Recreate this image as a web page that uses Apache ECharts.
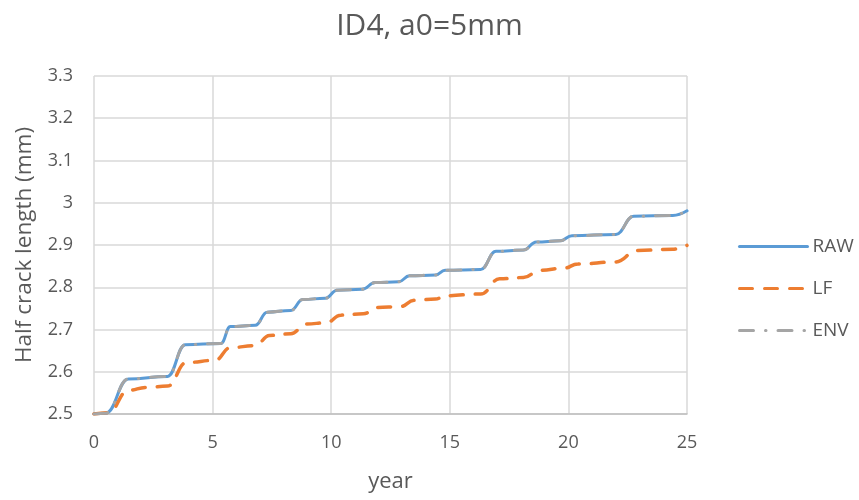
<!DOCTYPE html>
<html>
<head>
<meta charset="utf-8">
<script src="https://cdn.jsdelivr.net/npm/echarts@6/dist/echarts.min.js"></script>
<style>html,body{margin:0;padding:0;background:#fff;}#c{width:859px;height:500px;}</style>
</head>
<body>
<div id="c"></div>
<script>
var titleText = 'ID4, a0=5mm';
var xName = 'year';
var yName = 'Half crack length (mm)';
var seriesNames = ['RAW', 'LF', 'ENV'];

var rawYears = [0, 0.5, 1.45, 3.1, 3.85, 5.35, 5.75, 6.8, 7.3, 8.3, 8.8, 9.75, 10.25, 11.3, 11.85, 12.85, 13.3, 14.4, 14.8, 16.3, 16.95, 18.1, 18.65, 19.65, 20.15, 22.0, 22.75, 24.4, 25];
var rawValues = [2.5, 2.502, 2.583, 2.589, 2.664, 2.667, 2.707, 2.710, 2.741, 2.745, 2.771, 2.774, 2.793, 2.795, 2.811, 2.813, 2.827, 2.829, 2.840, 2.842, 2.885, 2.888, 2.907, 2.910, 2.922, 2.925, 2.968, 2.970, 2.981];

var lfYears = [0, 0.6, 1.45, 2.2, 3.1, 3.9, 5.1, 5.75, 6.8, 7.4, 8.3, 8.95, 9.8, 10.4, 11.35, 11.95, 12.9, 13.5, 14.4, 14.8, 16.3, 17.1, 18.1, 18.8, 19.8, 20.4, 22.0, 22.9, 24.4, 25];
var lfValues = [2.5, 2.503, 2.556, 2.563, 2.566, 2.622, 2.627, 2.657, 2.662, 2.686, 2.690, 2.713, 2.716, 2.734, 2.737, 2.752, 2.754, 2.769, 2.772, 2.780, 2.784, 2.820, 2.823, 2.840, 2.845, 2.855, 2.860, 2.887, 2.890, 2.899];

var envYears = [0, 0.5, 1.45, 3.1, 3.85, 5.35, 5.75, 6.8, 7.3, 8.3, 8.8, 9.75, 10.25, 11.3, 11.85, 12.85, 13.3, 14.4, 14.8, 16.3, 16.95, 18.1, 18.65, 19.65, 20.15, 22.0, 22.75, 24.4, 25];
var envValues = [2.5, 2.502, 2.583, 2.589, 2.664, 2.667, 2.707, 2.710, 2.741, 2.745, 2.771, 2.774, 2.793, 2.795, 2.811, 2.813, 2.827, 2.829, 2.840, 2.842, 2.885, 2.888, 2.907, 2.910, 2.922, 2.925, 2.968, 2.970, 2.981];

function pairs(xs, ys) { return xs.map(function (x, i) { return [x, ys[i]]; }); }

var FONT = 'Open Sans';
var TXT = '#595959';
var chart = echarts.init(document.getElementById('c'), null, {renderer: 'canvas'});
chart.setOption({
  animation: false,
  backgroundColor: '#ffffff',
  title: {
    text: titleText, left: 'center', top: 6,
    textStyle: {fontFamily: FONT, fontSize: 30, fontWeight: 'normal', color: TXT}
  },
  legend: {
    orient: 'vertical', left: 738, top: 237, padding: 0,
    itemWidth: 68, itemHeight: 14, itemGap: 23,
    textStyle: {fontFamily: FONT, fontSize: 19, color: TXT},
    itemStyle: {opacity: 0},
    lineStyle: {width: 3},
    data: seriesNames
  },
  grid: {left: 94, right: 172, top: 76, bottom: 86, containLabel: false},
  xAxis: {
    type: 'value', min: 0, max: 25, interval: 5,
    name: xName, nameLocation: 'middle', nameGap: 57,
    nameTextStyle: {fontFamily: FONT, fontSize: 22, color: TXT},
    axisLine: {show: true, lineStyle: {color: '#BFBFBF', width: 1.5}},
    axisTick: {show: false},
    axisLabel: {margin: 20, fontFamily: FONT, fontSize: 18, color: TXT},
    splitLine: {show: true, lineStyle: {color: '#D9D9D9', width: 1.5}}
  },
  yAxis: {
    type: 'value', min: 2.5, max: 3.3, interval: 0.1,
    name: yName, nameLocation: 'middle', nameGap: 58, nameRotate: 90,
    nameTextStyle: {fontFamily: FONT, fontSize: 22.5, color: TXT},
    axisLine: {show: false},
    axisTick: {show: false},
    axisLabel: {margin: 21, fontFamily: FONT, fontSize: 18, color: TXT,
      formatter: function (v) { return String(Math.round(v * 10) / 10); }},
    splitLine: {show: true, lineStyle: {color: '#D9D9D9', width: 1.5}}
  },
  series: [
    {
      name: seriesNames[0], type: 'line', data: pairs(rawYears, rawValues),
      showSymbol: false, symbol: 'none', smooth: 0.45, smoothMonotone: 'x',
      lineStyle: {color: '#5B9BD5', width: 3, cap: 'round'},
      itemStyle: {color: '#5B9BD5'}, z: 2
    },
    {
      name: seriesNames[1], type: 'line', data: pairs(lfYears, lfValues),
      showSymbol: false, symbol: 'none', smooth: 0.45, smoothMonotone: 'x',
      lineStyle: {color: '#ED7D31', width: 3.5, type: [13, 12], cap: 'round'},
      itemStyle: {color: '#ED7D31'}, z: 3
    },
    {
      name: seriesNames[2], type: 'line', data: pairs(envYears, envValues),
      showSymbol: false, symbol: 'none', smooth: 0.45, smoothMonotone: 'x',
      lineStyle: {color: '#A5A5A5', width: 3, type: [14, 12, 0.5, 12], cap: 'round'},
      itemStyle: {color: '#A5A5A5'}, z: 4
    }
  ]
});
</script>
</body>
</html>
